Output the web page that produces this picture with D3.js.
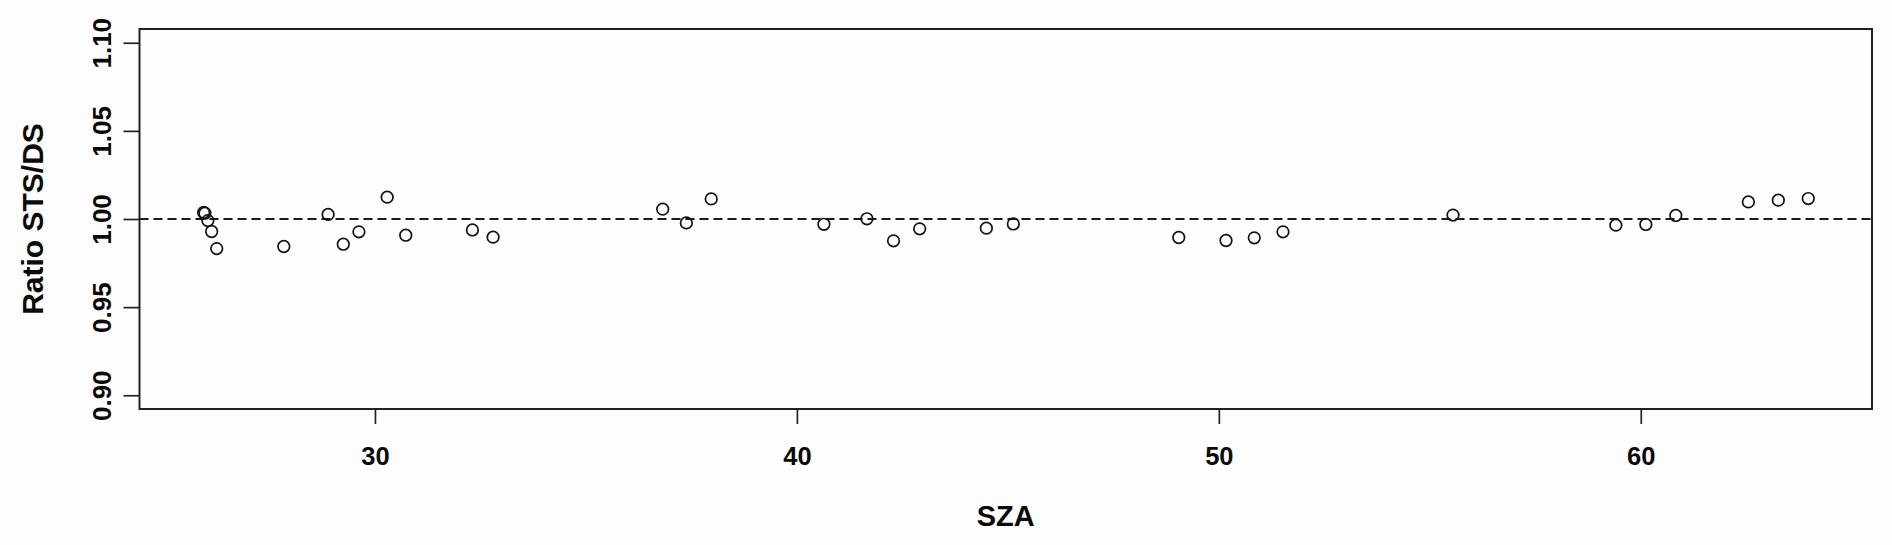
<!DOCTYPE html>
<html>
<head>
<meta charset="utf-8">
<script src="https://cdn.jsdelivr.net/npm/d3@7"></script>
<style>
  body { margin: 0; background: #fdfdfd; }
  svg { display: block; }
</style>
</head>
<body>
<script>
// solar zenith angle of each measurement
const sza = [25.94, 25.97, 26.04, 26.13, 26.25, 27.84, 28.89, 29.25, 29.62, 30.29,
    30.73, 32.31, 32.80, 36.82, 37.38, 37.97, 40.64, 41.66, 42.29, 42.91,
    44.49, 45.13, 49.05, 50.17, 50.84, 51.52, 55.55, 59.41, 60.12, 60.83,
    62.55, 63.26, 63.97];
// ratio STS / DS
const ratio = [1.0037, 1.0033, 0.9991, 0.9929, 0.9832, 0.9844, 1.0026, 0.9857, 0.9927, 1.0124,
    0.9908, 0.9938, 0.9897, 1.0056, 0.9978, 1.0114, 0.9970, 1.0001, 0.9876, 0.9944,
    0.9948, 0.9972, 0.9895, 0.9878, 0.9893, 0.9927, 1.0022, 0.9965, 0.9969, 1.0020,
    1.0097, 1.0107, 1.0116];
const xTicks = [30, 40, 50, 60];
const yTicks = [0.90, 0.95, 1.00, 1.05, 1.10];
const refLine = 1.0;

const width = 1892, height = 545;
const box = { left: 139.5, right: 1872, top: 29, bottom: 409 };

let svg = d3.select("body").append("svg").attr("width", width).attr("height", height);

let x = d3.scaleLinear().domain([24.42, 65.48]).range([box.left, box.right]);
let y = d3.scaleLinear().domain([0.8922, 1.1078]).range([box.bottom, box.top]);

svg.append("rect")
    .attr("width", width).attr("height", height)
    .attr("fill", "#fdfdfd");

// reference line
svg.append("line")
    .attr("x1", box.left).attr("x2", box.right)
    .attr("y1", y(refLine)).attr("y2", y(refLine))
    .attr("stroke", "#1a1a1a")
    .attr("stroke-width", 1.8)
    .attr("stroke-dasharray", "9,5");

svg.selectAll("circle.pt").data(sza).enter().append("circle")
    .attr("class", "pt")
    .attr("cx", d => x(d))
    .attr("cy", (d, i) => y(ratio[i]))
    .attr("r", 5.8)
    .attr("fill", "none")
    .attr("stroke", "#111")
    .attr("stroke-width", 1.7);

let xAxis = svg.append("g")
    .attr("transform", `translate(0, ${box.bottom})`)
    .call(d3.axisBottom(x).tickValues(xTicks).tickSize(15).tickSizeOuter(0).tickFormat(d3.format("d")));
xAxis.select(".domain").remove();
xAxis.selectAll("line").attr("stroke", "#222").attr("stroke-width", 1.7);
xAxis.selectAll("text")
    .attr("y", 56).attr("dy", 0)
    .attr("fill", "#0a0a0a")
    .style("font", "bold 25.5px 'Liberation Sans', Arial, sans-serif");

let yAxis = svg.append("g")
    .attr("transform", `translate(${box.left}, 0)`)
    .call(d3.axisLeft(y).tickValues(yTicks).tickSize(16).tickSizeOuter(0).tickFormat(d3.format(".2f")));
yAxis.select(".domain").remove();
yAxis.selectAll("line").attr("stroke", "#222").attr("stroke-width", 1.7);
yAxis.selectAll("text")
    .attr("transform", "rotate(-90)")
    .attr("x", 0).attr("y", -29).attr("dy", 0)
    .attr("text-anchor", "middle")
    .attr("fill", "#0a0a0a")
    .style("font", "bold 26px 'Liberation Sans', Arial, sans-serif");

// plot box
svg.append("rect")
    .attr("x", box.left).attr("y", box.top)
    .attr("width", box.right - box.left).attr("height", box.bottom - box.top)
    .attr("fill", "none")
    .attr("stroke", "#222")
    .attr("stroke-width", 2);

svg.append("text")
    .attr("x", (box.left + box.right) / 2).attr("y", 526)
    .attr("text-anchor", "middle")
    .attr("fill", "#0a0a0a")
    .style("font", "bold 29px 'Liberation Sans', Arial, sans-serif")
    .text("SZA");

svg.append("text")
    .attr("transform", `translate(43, ${(box.top + box.bottom) / 2}) rotate(-90)`)
    .attr("text-anchor", "middle")
    .attr("fill", "#0a0a0a")
    .style("font", "bold 30px 'Liberation Sans', Arial, sans-serif")
    .text("Ratio STS/DS");
</script>
</body>
</html>
